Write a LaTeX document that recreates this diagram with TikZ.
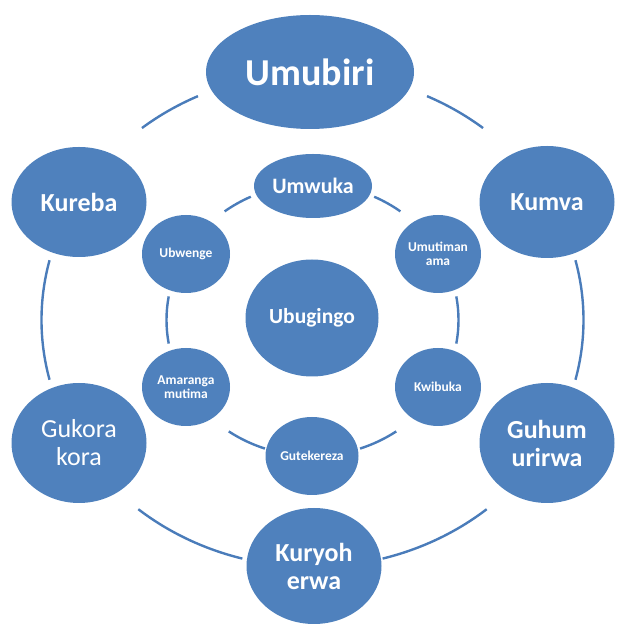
\documentclass[tikz,border=0pt]{standalone}
\usepackage{fontspec}
\setmainfont{Carlito}
\usetikzlibrary{shapes.geometric,positioning,calc}
\definecolor{cellblue}{RGB}{79,129,189}
\definecolor{ringblue}{RGB}{74,124,186}
\tikzstyle{cell} = [ellipse, fill=cellblue, text=white, inner sep=0pt, align=center]
\tikzstyle{link} = [ringblue, line width=2.4pt]
\newcommand{\bigtxt}{\bfseries\fontsize{26pt}{28pt}\selectfont}
\newcommand{\smalltxt}{\bfseries\fontsize{13.5pt}{14pt}\selectfont}

\begin{document}
\begin{tikzpicture}[x=1pt, y=1pt]
  \useasboundingbox (0,0) rectangle (616,624);
  \coordinate (hub) at (312.5,304);

  % outer ring
  \node[cell, minimum width=208pt, minimum height=114pt, font=\bfseries\fontsize{38pt}{40pt}\selectfont] (umubiri) at (310,552) {Umubiri};
  \node[cell, minimum width=135pt, minimum height=110pt, font=\bigtxt] (kureba) at (79,422) {Kureba};
  \node[cell, minimum width=135pt, minimum height=112pt, font=\bigtxt] (kumva) at (547,422) {Kumva};
  \node[cell, minimum width=135pt, minimum height=120pt, font=\mdseries\fontsize{26pt}{28pt}\selectfont] (gukora) at (79,181) {Gukora\\kora};
  \node[cell, minimum width=135pt, minimum height=120pt, font=\bigtxt] (guhum) at (547,181) {Guhum\\urirwa};
  \node[cell, minimum width=135pt, minimum height=116pt, font=\bigtxt] (kuryoh) at (314,58) {Kuryoh\\erwa};

  \foreach \s/\e in {51/65, 115/129, 166/194, 230/255, 285/310, -14/14}
  \draw[link] ($(hub)+(\s:271pt and 247pt)$) arc[start angle=\s, end angle=\e, x radius=271pt, y radius=247pt];

  % inner ring
  \node[cell, minimum width=118pt, minimum height=64pt, font=\bfseries\fontsize{22pt}{24pt}\selectfont] (umwuka) at (313,438) {Umwuka};
  \node[cell, minimum width=88pt, minimum height=78pt, font=\smalltxt] (ubwenge) at (186,370) {Ubwenge};
  \node[cell, minimum width=86pt, minimum height=78pt, font=\smalltxt] (umutima) at (438,370) {Umutiman\\ama};
  \node[cell, minimum width=88pt, minimum height=78pt, font=\smalltxt] (amaranga) at (186,237) {Amaranga\\mutima};
  \node[cell, minimum width=86pt, minimum height=78pt, font=\smalltxt] (kwibuka) at (438,237) {Kwibuka};
  \node[cell, minimum width=93pt, minimum height=78pt, font=\smalltxt] (gutekereza) at (312,168) {Gutekereza};

  \foreach \s/\e in {53/65, 115/127, 170/190, 235/251, 289/305, -10/10}
  \draw[link] ($(hub)+(\s:146pt and 136pt)$) arc[start angle=\s, end angle=\e, x radius=146pt, y radius=136pt];

  % centre
  \node[cell, minimum width=133pt, minimum height=117pt, font=\bfseries\fontsize{21.5pt}{23pt}\selectfont] (ubugingo) at (312,306) {Ubugingo};
\end{tikzpicture}
\end{document}
